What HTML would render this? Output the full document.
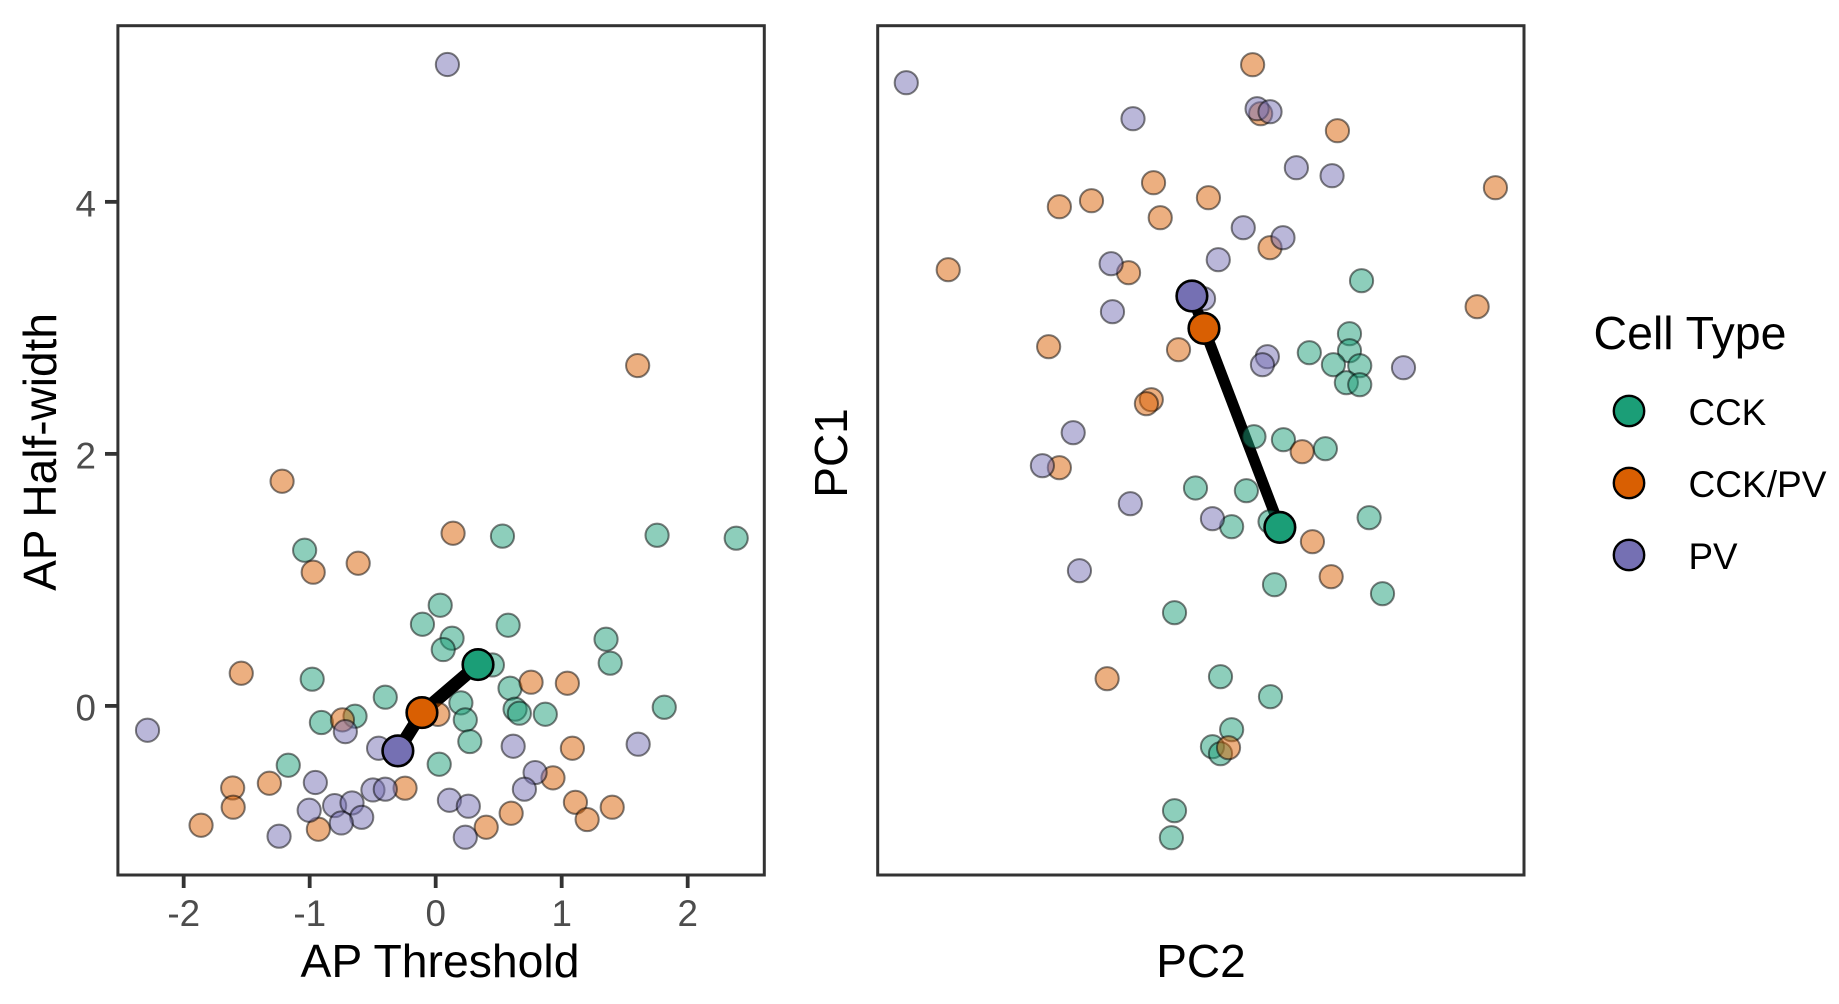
<!DOCTYPE html>
<html lang="en">
<head>
<meta charset="utf-8">
<title>Cell type scatter plots</title>
<style>
html,body{margin:0;padding:0;background:#fff;}
svg{display:block;font-family:"Liberation Sans",Arial,sans-serif;}
.title{font-size:46px;fill:#000;}
.tick{font-size:36.8px;fill:#4d4d4d;}
.leg{font-size:36.8px;fill:#000;}
</style>
</head>
<body>
<svg id="chart" width="1839" height="1004" viewBox="0 0 1839 1004" xmlns="http://www.w3.org/2000/svg">
  <rect x="0" y="0" width="1839" height="1004" fill="#fff"/>
  <g id="left-marks"></g>
  <g id="right-marks"></g>
  <rect x="117.9" y="25.7" width="646.4" height="849.3" fill="none" stroke="#333" stroke-width="3"/>
  <rect x="877.7" y="25.7" width="646.3" height="849.3" fill="none" stroke="#333" stroke-width="3"/>
  <g id="left-axes"></g>
  <text class="title" x="440" y="977" text-anchor="middle" textLength="279" lengthAdjust="spacingAndGlyphs">AP Threshold</text>
  <text class="title" transform="translate(56,452) rotate(-90)" text-anchor="middle">AP Half-width</text>
  <text class="title" x="1201" y="977" text-anchor="middle">PC2</text>
  <text class="title" transform="translate(847,453) rotate(-90)" text-anchor="middle">PC1</text>
  <g>
    <text class="title" x="1593.5" y="349" textLength="193" lengthAdjust="spacingAndGlyphs">Cell Type</text>
    <circle cx="1629" cy="411" r="15.2" fill="#1b9e77" stroke="#000" stroke-width="2.4"/>
    <text class="leg" x="1688.5" y="425">CCK</text>
    <circle cx="1629" cy="483" r="15.2" fill="#d95f02" stroke="#000" stroke-width="2.4"/>
    <text class="leg" x="1688.5" y="497" textLength="138" lengthAdjust="spacingAndGlyphs">CCK/PV</text>
    <circle cx="1629" cy="555" r="15.2" fill="#7570b3" stroke="#000" stroke-width="2.4"/>
    <text class="leg" x="1688.5" y="569">PV</text>
  </g>
</svg>
<script>
// Left panel data (AP Threshold, AP Half-width)
const cckThreshold = [-1.04,.53,1.757,2.385,.036,-.105,.575,.13,.06,1.352,1.385,.45,-.98,-.40,.59,.20,1.814,-.64,-.907,.235,.63,.664,.87,.271,.028,-1.17];
const cckHalfWidth = [1.235,1.347,1.354,1.331,.799,.648,.640,.537,.447,.529,.339,.325,.212,.069,.14,.024,-.011,-.082,-.132,-.111,-.026,-.058,-.066,-.283,-.463,-.471];
const mixedThreshold = [1.603,-1.219,.138,-.615,-.972,-1.543,.757,1.045,.018,-.74,1.085,-.243,-1.32,.931,-1.611,-1.607,-1.862,-.931,.599,.401,1.109,1.401,1.202];
const mixedHalfWidth = [2.701,1.783,1.370,1.132,1.061,.259,.188,.18,-.067,-.111,-.336,-.653,-.614,-.571,-.651,-.804,-.947,-.979,-.852,-.963,-.765,-.804,-.902];
const pvThreshold = [.093,-2.287,-.717,-.453,.615,1.607,.789,-.955,-.498,-.40,.704,.109,.259,-1.004,-.802,-.664,-.587,-.749,-1.243,.235];
const pvHalfWidth = [5.09,-.193,-.204,-.336,-.32,-.304,-.529,-.608,-.667,-.661,-.661,-.749,-.796,-.828,-.791,-.77,-.884,-.929,-1.034,-1.042];
const meanThreshold = [.336,-.109,-.30];
const meanHalfWidth = [.328,-.053,-.357];

// Right panel data (PC2, PC1)
const cckPc2 = [3.60,3.33,3.33,2.43,2.97,3.56,3.26,3.56,1.19,1.85,2.79,-.12,1.02,.69,1.55,3.77,1.65,4.07,-.59,.44,1.56,.69,.26,.44,-.59,-.66];
const cckPc1 = [5.09,3.50,2.99,2.93,2.57,2.54,2.03,1.97,.41,.32,.05,-1.13,-1.21,-2.29,-2.14,-2.02,-4.03,-4.30,-4.87,-6.79,-7.39,-8.38,-8.89,-9.10,-10.81,-11.62];
const mixedPc2 = [1.16,1.34,3.06,-1.06,6.60,-2.45,.17,-3.17,-.91,1.55,-5.66,-1.62,6.19,-3.41,-.50,-1.11,-1.22,2.27,-3.17,2.50,2.92,-2.10,.62];
const mixedPc1 = [11.57,10.10,9.59,8.03,7.88,7.49,7.58,7.31,6.98,6.08,5.42,5.33,4.31,3.11,3.02,1.52,1.40,-.04,-.52,-2.74,-3.79,-6.85,-8.92];
const pvPc2 = [-6.60,-1.52,1.26,1.55,2.14,2.94,.95,1.84,.39,-2.01,.06,-1.98,1.49,1.38,4.54,-2.86,-3.55,-1.58,.26,-2.72];
const pvPc1 = [11.03,9.95,10.25,10.16,8.48,8.24,6.68,6.38,5.72,5.60,4.55,4.16,2.81,2.57,2.48,.53,-.46,-1.60,-2.05,-3.61];
const meanPc2 = [1.77,.07,-.20];
const meanPc1 = [-2.31,3.66,4.63];

// Axis labels
const xTickValues = [-2,-1,0,1,2];
const yTickValues = [0,2,4];
const seriesNames = ['cck','cck-pv','pv'];
const seriesColors = ['#1b9e77','#d95f02','#7570b3'];

const NS = 'http://www.w3.org/2000/svg';
function linear(d0, d1, r0, r1) {
  return function (v) { return r0 + (v - d0) * (r1 - r0) / (d1 - d0); };
}
const apX = linear(-2.522, 2.608, 117.9, 764.3);
const apY = linear(-1.342, 5.398, 875, 25.7);
const pcX = linear(-7.24, 7.24, 877.7, 1524);
const pcY = linear(-12.74, 12.74, 875, 25.7);

function drawPanel(parent, xs, ys, means, sx, sy, prefix, lineWidth) {
  const mx = means[0], my = means[1];
  for (let i = 0; i < mx.length - 1; i++) {
    const seg = document.createElementNS(NS, 'line');
    
    
    seg.setAttribute('x1', sx(mx[i]));
    seg.setAttribute('y1', sy(my[i]));
    seg.setAttribute('x2', sx(mx[i + 1]));
    seg.setAttribute('y2', sy(my[i + 1]));
    seg.setAttribute('stroke', '#000');
    seg.setAttribute('stroke-width', lineWidth);
    parent.appendChild(seg);
  }
  for (let s = 0; s < xs.length; s++) {
    for (let i = 0; i < xs[s].length; i++) {
      const dot = document.createElementNS(NS, 'circle');
      
      
      dot.setAttribute('cx', sx(xs[s][i]));
      dot.setAttribute('cy', sy(ys[s][i]));
      dot.setAttribute('r', '11.6');
      dot.setAttribute('fill', seriesColors[s]);
      dot.setAttribute('fill-opacity', '0.5');
      dot.setAttribute('stroke', '#000');
      dot.setAttribute('stroke-opacity', '0.5');
      dot.setAttribute('stroke-width', '2');
      parent.appendChild(dot);
    }
  }
  for (let s = 0; s < mx.length; s++) {
    const big = document.createElementNS(NS, 'circle');
    
    
    big.setAttribute('cx', sx(mx[s]));
    big.setAttribute('cy', sy(my[s]));
    big.setAttribute('r', '15.3');
    big.setAttribute('fill', seriesColors[s]);
    big.setAttribute('stroke', '#000');
    big.setAttribute('stroke-width', '2.6');
    parent.appendChild(big);
  }
}

drawPanel(document.getElementById('left-marks'),
  [cckThreshold, mixedThreshold, pvThreshold],
  [cckHalfWidth, mixedHalfWidth, pvHalfWidth],
  [meanThreshold, meanHalfWidth], apX, apY, 'ap', 13);
drawPanel(document.getElementById('right-marks'),
  [cckPc2, mixedPc2, pvPc2],
  [cckPc1, mixedPc1, pvPc1],
  [meanPc2, meanPc1], pcX, pcY, 'pc', 11);

const axes = document.getElementById('left-axes');
xTickValues.forEach(function (v) {
  const t = document.createElementNS(NS, 'line');
  
  
  t.setAttribute('x1', apX(v));
  t.setAttribute('x2', apX(v));
  t.setAttribute('y1', 875);
  t.setAttribute('y2', 888);
  t.setAttribute('stroke', '#333');
  t.setAttribute('stroke-width', '3.8');
  axes.appendChild(t);
  const l = document.createElementNS(NS, 'text');
  
  
  l.setAttribute('class', 'tick');
  l.setAttribute('x', apX(v));
  l.setAttribute('y', 926);
  l.setAttribute('text-anchor', 'middle');
  l.textContent = String(v);
  axes.appendChild(l);
});
yTickValues.forEach(function (v) {
  const t = document.createElementNS(NS, 'line');
  
  
  t.setAttribute('x1', 105);
  t.setAttribute('x2', 117.9);
  t.setAttribute('y1', apY(v));
  t.setAttribute('y2', apY(v));
  t.setAttribute('stroke', '#333');
  t.setAttribute('stroke-width', '3.8');
  axes.appendChild(t);
  const l = document.createElementNS(NS, 'text');
  
  
  l.setAttribute('class', 'tick');
  l.setAttribute('x', 96);
  l.setAttribute('y', apY(v) + 14.5);
  l.setAttribute('text-anchor', 'end');
  l.textContent = String(v);
  axes.appendChild(l);
});
</script>
</body>
</html>
